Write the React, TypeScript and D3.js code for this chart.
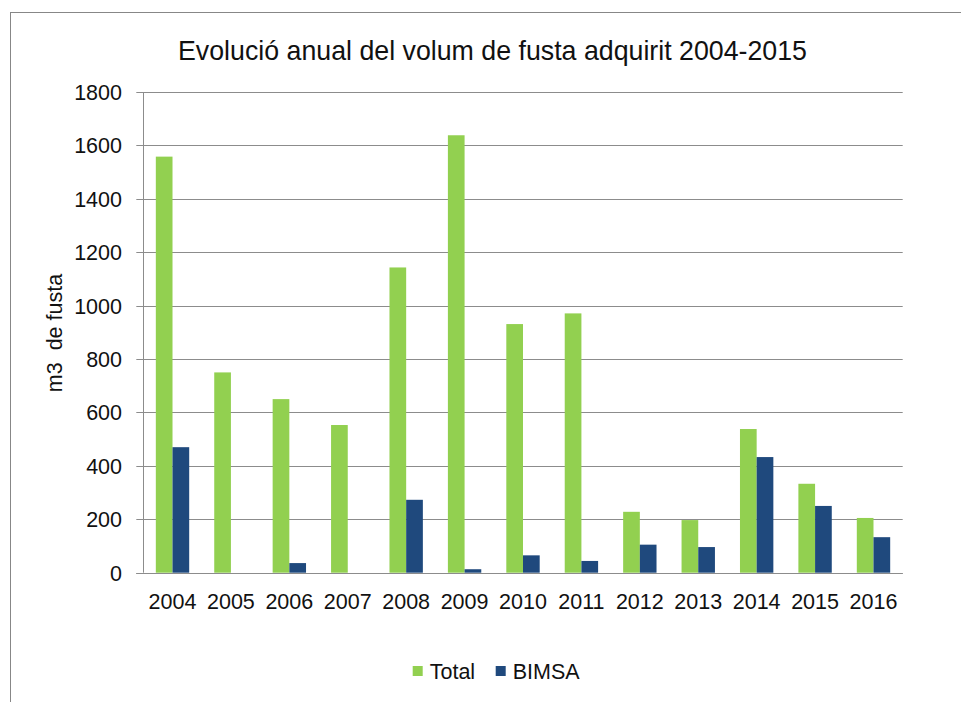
import { useEffect, useRef } from 'react';
import * as d3 from 'd3';

// Dades del gràfic
const years = ['2004', '2005', '2006', '2007', '2008', '2009', '2010', '2011', '2012', '2013', '2014', '2015', '2016'];
const total = [1558, 750, 650, 553, 1143, 1638, 931, 971, 228, 197, 538, 333, 205];
const bimsa = [470, 0, 36, 0, 273, 13, 65, 44, 105, 96, 433, 250, 133];
const seriesNames = ['Total', 'BIMSA'];
const seriesColors = ['#92D050', '#1F497D'];
const yTicks = [0, 200, 400, 600, 800, 1000, 1200, 1400, 1600, 1800];

const App = () => {
  const svgRef = useRef<any>(null);

  useEffect(() => {
    const svg = d3.select(svgRef.current);
    svg.selectAll('*').remove();

    const font = '"Liberation Sans", Arial, sans-serif';
    const left = 143.3, right = 902.7, top = 92, bottom = 572.7;

    // marc exterior
    svg.append('rect')
      .attr('x', 10.5).attr('y', 12.5)
      .attr('width', 1000).attr('height', 800)
      .attr('fill', 'white')
      .attr('stroke', '#878787')
      .attr('stroke-width', 1);

    const y = d3.scaleLinear().domain([0, 1800]).range([bottom, top]);
    const x0 = d3.scaleBand<string>().domain(years).range([left, right]);
    const step = x0.step();
    const gap = step * 1.5 / 3.5;
    const x1 = d3.scaleBand<string>().domain(seriesNames).range([gap / 2, step - gap / 2]);

    // títol
    svg.append('text')
      .attr('x', 492.5).attr('y', 60)
      .attr('text-anchor', 'middle')
      .attr('font-family', font)
      .attr('font-size', 28)
      .attr('textLength', 629)
      .attr('lengthAdjust', 'spacingAndGlyphs')
      .attr('fill', '#111')
      .text('Evolució anual del volum de fusta adquirit 2004-2015');

    // línies de graella
    svg.append('g').selectAll('line')
      .data(yTicks)
      .join('line')
      .attr('x1', left - 7).attr('x2', right)
      .attr('y1', (d) => Math.round(y(d)) + 0.5)
      .attr('y2', (d) => Math.round(y(d)) + 0.5)
      .attr('stroke', '#8c8c8c')
      .attr('stroke-width', 1);

    // etiquetes eix Y
    svg.append('g').selectAll('text')
      .data(yTicks)
      .join('text')
      .attr('x', 122)
      .attr('y', (d) => y(d) + 8)
      .attr('text-anchor', 'end')
      .attr('font-family', font)
      .attr('font-size', 21.5)
      .attr('fill', '#111')
      .text((d) => String(d));

    // barres
    const data = years.map((yr, i) => ({ year: yr, values: [total[i], bimsa[i]] }));
    const groups = svg.append('g').selectAll('g')
      .data(data)
      .join('g')
      .attr('transform', (d) => `translate(${x0(d.year)},0)`);

    groups.selectAll('rect')
      .data((d) => d.values.map((v, k) => ({ key: seriesNames[k], value: v, color: seriesColors[k] })))
      .join('rect')
      .filter((d) => d.value > 0)
      .attr('x', (d) => x1(d.key) as number)
      .attr('width', x1.bandwidth())
      .attr('y', (d) => y(d.value))
      .attr('height', (d) => y(0) - y(d.value))
      .attr('fill', (d) => d.color);

    // eix Y
    svg.append('line')
      .attr('x1', Math.round(left) + 0.5).attr('x2', Math.round(left) + 0.5)
      .attr('y1', top).attr('y2', bottom)
      .attr('stroke', '#8c8c8c');

    // eix X
    svg.append('line')
      .attr('x1', left - 7).attr('x2', right)
      .attr('y1', Math.round(bottom) + 0.5).attr('y2', Math.round(bottom) + 0.5)
      .attr('stroke', '#8c8c8c');

    // etiquetes eix X
    svg.append('g').selectAll('text')
      .data(years)
      .join('text')
      .attr('x', (d) => (x0(d) as number) + step / 2)
      .attr('y', 609)
      .attr('text-anchor', 'middle')
      .attr('font-family', font)
      .attr('font-size', 21.5)
      .attr('fill', '#111')
      .text((d) => d);

    // títol eix Y
    svg.append('text')
      .attr('transform', 'translate(62,333) rotate(-90)')
      .attr('text-anchor', 'middle')
      .attr('font-family', font)
      .attr('font-size', 21.5)
      .attr('fill', '#111')
      .attr('xml:space', 'preserve')
      .style('white-space', 'pre')
      .text('m3  de fusta');

    // llegenda
    const legendX = [412.7, 495.7];
    const legend = svg.append('g').selectAll('g')
      .data(seriesNames)
      .join('g')
      .attr('transform', (d, i) => `translate(${legendX[i]},666)`);
    legend.append('rect')
      .attr('width', 10).attr('height', 10)
      .attr('fill', (d, i) => seriesColors[i]);
    legend.append('text')
      .attr('x', 17).attr('y', 13)
      .attr('font-family', font)
      .attr('font-size', 21.5)
      .attr('fill', '#111')
      .text((d) => d);
  }, []);

  return (
    <svg
      ref={svgRef}
      width={961}
      height={702}
      style={{ position: 'absolute', left: 0, top: 0, background: 'white' }}
    />
  );
};

export default App;
